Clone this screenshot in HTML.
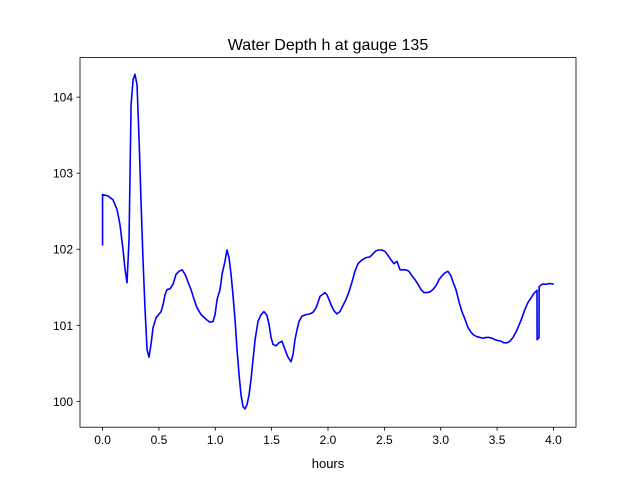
<!DOCTYPE html>
<html><head><meta charset="utf-8"><style>
html,body{margin:0;padding:0;background:#fff;}
svg{display:block;font-family:"Liberation Sans","DejaVu Sans",sans-serif;}
</style></head><body>
<svg id="chart" width="640" height="480" viewBox="0 0 640 480">
<rect x="0" y="0" width="640" height="480" fill="#fff"/>
<text x="328" y="50" text-anchor="middle" font-size="16" fill="#000">Water Depth h at gauge 135</text>
<g id="plot"></g>
<text x="328" y="468" text-anchor="middle" font-size="13" fill="#000">hours</text>
</svg>
<script>
const hours = [0,0,0.049,0.093,0.129,0.155,0.182,0.200,0.217,0.235,0.253,0.271,0.288,0.306,0.324,0.341,0.359,0.377,0.395,0.412,0.430,0.448,0.475,0.519,0.537,0.554,0.572,0.599,0.625,0.652,0.678,0.705,0.732,0.758,0.785,0.812,0.838,0.874,0.918,0.953,0.980,0.998,1.016,1.042,1.060,1.086,1.104,1.122,1.140,1.157,1.175,1.193,1.211,1.228,1.246,1.264,1.282,1.300,1.317,1.335,1.353,1.379,1.406,1.432,1.459,1.477,1.495,1.512,1.539,1.565,1.592,1.619,1.645,1.672,1.690,1.707,1.725,1.743,1.769,1.805,1.840,1.867,1.894,1.911,1.929,1.947,1.973,1.991,2.009,2.027,2.053,2.080,2.106,2.133,2.160,2.186,2.213,2.239,2.266,2.302,2.337,2.373,2.399,2.426,2.452,2.479,2.506,2.532,2.559,2.585,2.612,2.639,2.665,2.692,2.718,2.745,2.772,2.798,2.825,2.852,2.878,2.905,2.931,2.958,2.985,3.011,3.038,3.064,3.091,3.109,3.135,3.162,3.188,3.215,3.242,3.268,3.295,3.322,3.348,3.375,3.401,3.428,3.455,3.481,3.508,3.534,3.561,3.588,3.614,3.641,3.667,3.694,3.721,3.747,3.774,3.801,3.827,3.854,3.855,3.872,3.873,3.900,3.936,3.969,3.996,4.0];
const depth = [102.05,102.72,102.70,102.65,102.52,102.32,101.99,101.73,101.56,102.13,103.90,104.23,104.30,104.16,103.44,102.65,101.86,101.21,100.68,100.58,100.75,100.97,101.10,101.18,101.27,101.40,101.47,101.48,101.54,101.67,101.71,101.73,101.67,101.57,101.47,101.34,101.23,101.14,101.08,101.04,101.05,101.14,101.34,101.47,101.67,101.84,101.99,101.89,101.67,101.40,101.08,100.68,100.35,100.09,99.93,99.90,99.96,100.09,100.29,100.55,100.81,101.05,101.14,101.18,101.13,101.01,100.84,100.75,100.73,100.77,100.79,100.68,100.58,100.52,100.62,100.81,100.94,101.05,101.12,101.14,101.15,101.17,101.23,101.30,101.38,101.40,101.43,101.40,101.34,101.27,101.19,101.15,101.18,101.26,101.34,101.44,101.57,101.71,101.81,101.86,101.89,101.90,101.94,101.98,101.99,101.99,101.97,101.92,101.86,101.81,101.84,101.73,101.73,101.73,101.71,101.65,101.60,101.54,101.47,101.43,101.43,101.44,101.47,101.52,101.60,101.65,101.69,101.71,101.65,101.57,101.47,101.31,101.18,101.08,100.97,100.91,100.87,100.85,100.84,100.83,100.84,100.84,100.83,100.81,100.80,100.79,100.77,100.77,100.79,100.84,100.91,101.00,101.10,101.21,101.30,101.36,101.42,101.46,100.81,100.84,101.51,101.54,101.54,101.55,101.54,101.55];
const xTicks = [0.0,0.5,1.0,1.5,2.0,2.5,3.0,3.5,4.0];
const xTickLabels = ["0.0","0.5","1.0","1.5","2.0","2.5","3.0","3.5","4.0"];
const yTicks = [100,101,102,103,104];
const yTickLabels = ["100","101","102","103","104"];

const L=80,R=576,T=57.6,B=427.2;
const xMin=-0.2,xMax=4.2,yMin=99.66,yMax=104.52;
const xs=v=>L+(v-xMin)/(xMax-xMin)*(R-L);
const ys=v=>B-(v-yMin)/(yMax-yMin)*(B-T);
const NS="http://www.w3.org/2000/svg";
const g=document.getElementById('plot');
function mk(tag,attrs){const e=document.createElementNS(NS,tag);for(const k in attrs)e.setAttribute(k,attrs[k]);return e;}

const line=mk('polyline',{points:hours.map((h,i)=>xs(h).toFixed(2)+','+ys(depth[i]).toFixed(2)).join(' '),fill:'none',stroke:'#0000ff','stroke-width':1.6,'stroke-linejoin':'round'});


g.appendChild(line);

const frame=mk('rect',{x:L,y:T,width:R-L,height:B-T,fill:'none',stroke:'#000','stroke-width':0.8});


g.appendChild(frame);

xTicks.forEach((t,i)=>{
  const x=xs(t);
  const tk=mk('line',{x1:x,x2:x,y1:B,y2:B+3.5,stroke:'#000','stroke-width':0.8});
  
  
  g.appendChild(tk);
  const tx=mk('text',{x:x,y:B+17,'text-anchor':'middle','font-size':12,fill:'#000'});
  tx.textContent=xTickLabels[i];
  
  
  g.appendChild(tx);
});
yTicks.forEach((t,i)=>{
  const y=ys(t);
  const tk=mk('line',{x1:L-3.5,x2:L,y1:y,y2:y,stroke:'#000','stroke-width':0.8});
  
  
  g.appendChild(tk);
  const tx=mk('text',{x:L-7,y:y+4.5,'text-anchor':'end','font-size':12,fill:'#000'});
  tx.textContent=yTickLabels[i];
  
  
  g.appendChild(tx);
});
</script>
</body></html>
